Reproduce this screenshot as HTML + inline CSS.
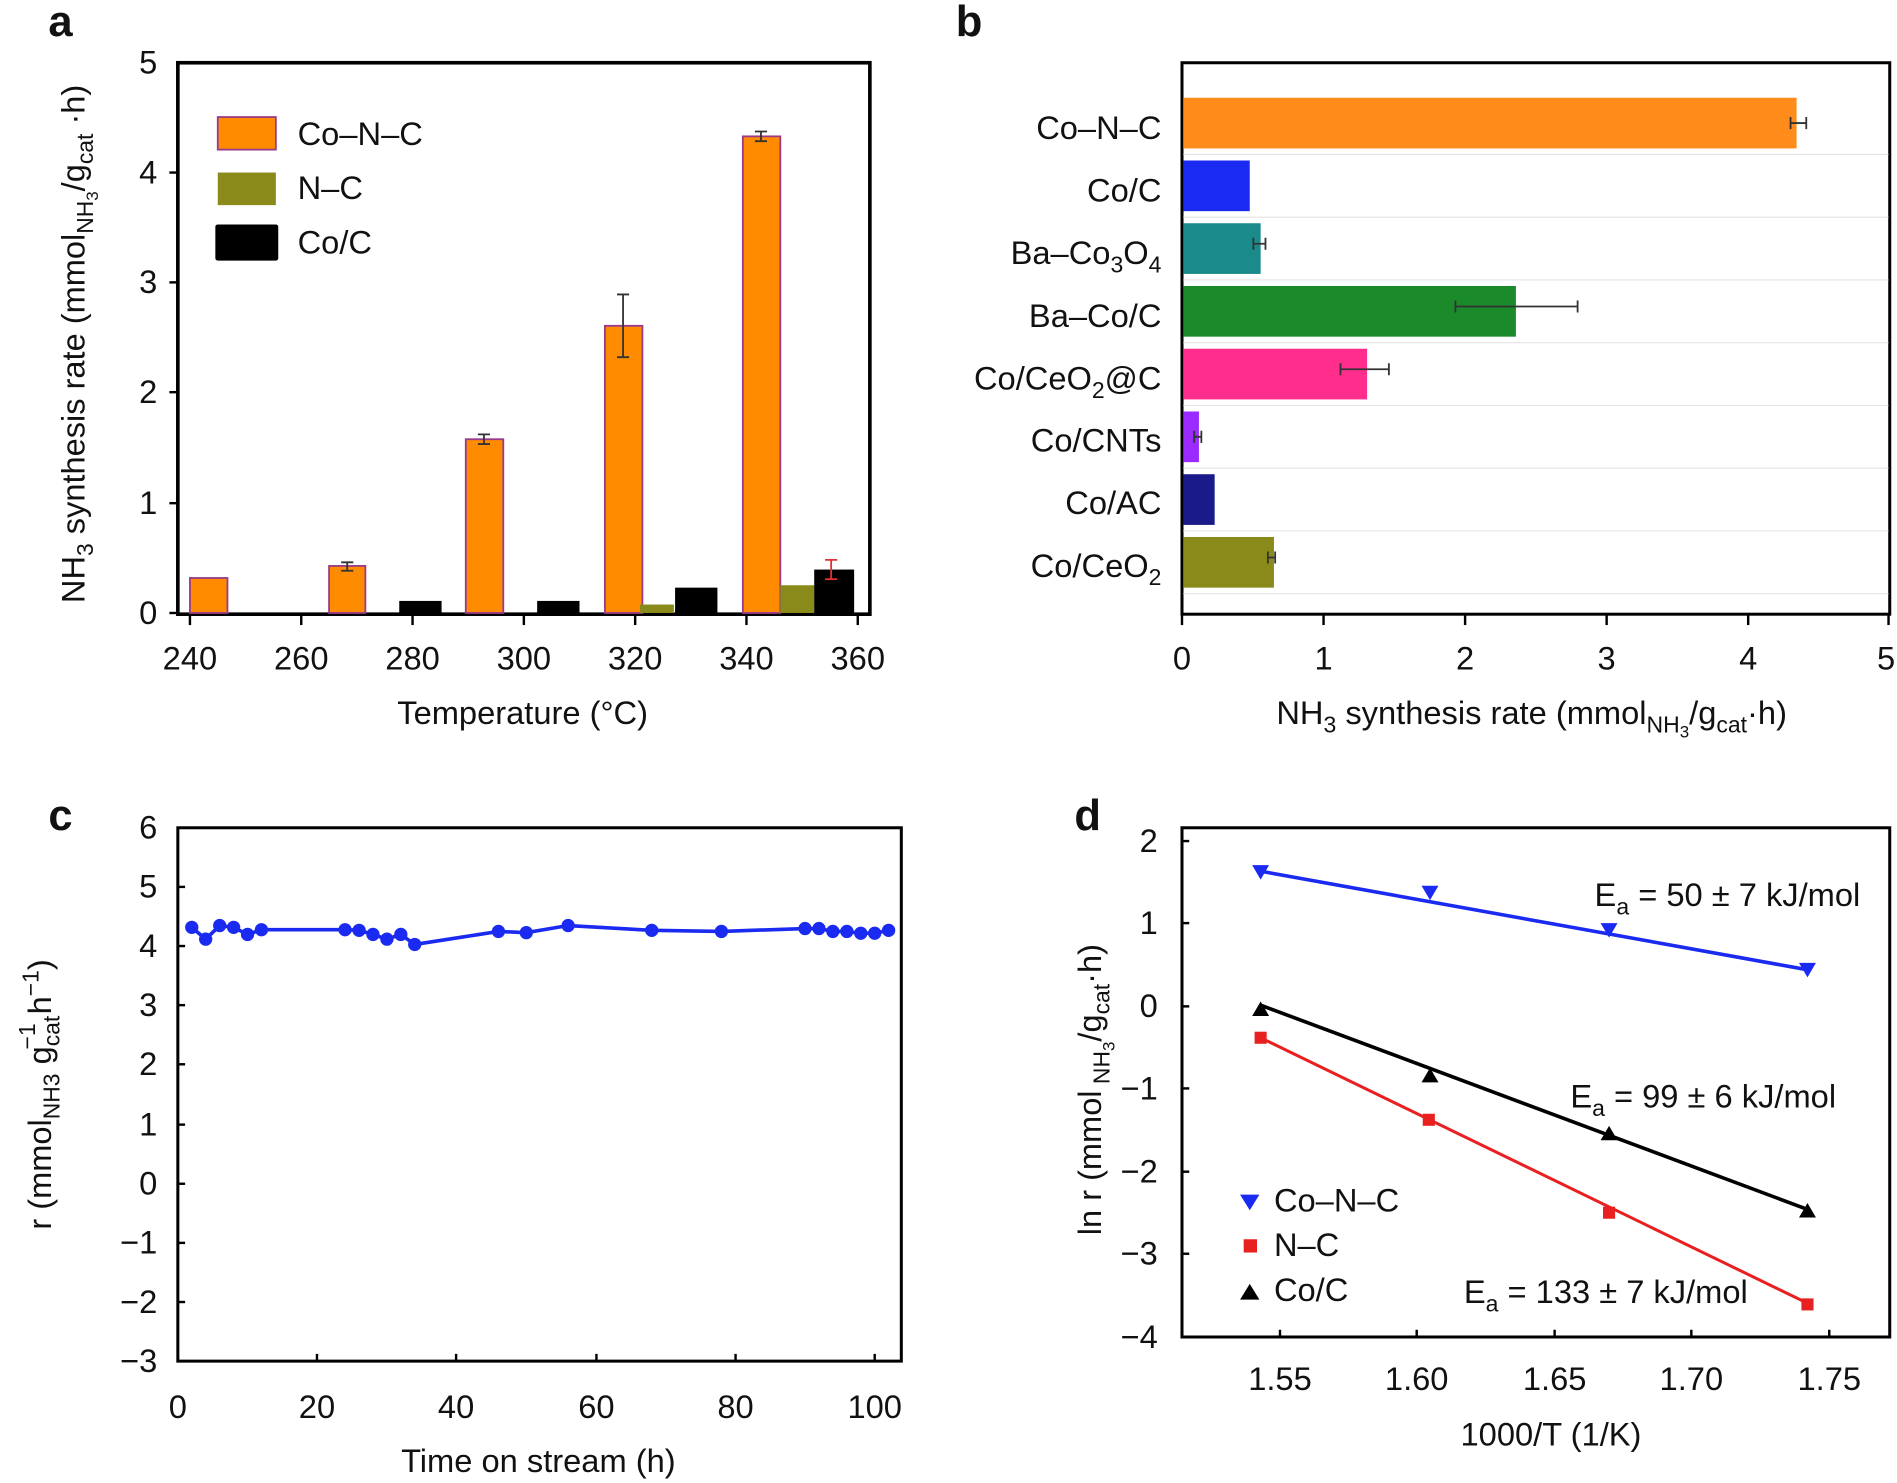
<!DOCTYPE html>
<html><head><meta charset="utf-8"><style>
html,body{margin:0;padding:0;background:#fff;}
svg{display:block;}
text{font-family:"Liberation Sans",Arial,sans-serif;fill:#111;}
</style></head><body>
<svg width="1897" height="1483" viewBox="0 0 1568 1229" preserveAspectRatio="none" xmlns="http://www.w3.org/2000/svg">
<g font-size="27">
<text x="40" y="30" font-size="36" font-weight="bold">a</text>
<text x="790" y="30" font-size="36" font-weight="bold">b</text>
<text x="40" y="688" font-size="36" font-weight="bold">c</text>
<text x="888" y="688" font-size="36" font-weight="bold">d</text>

<!-- ===== Panel a ===== -->
<rect x="147" y="52" width="572" height="457" fill="none" stroke="#000" stroke-width="3"/>
<g stroke="#000" stroke-width="2">
<line x1="147" y1="508" x2="140" y2="508"/><line x1="147" y1="417" x2="140" y2="417"/><line x1="147" y1="325" x2="140" y2="325"/><line x1="147" y1="234" x2="140" y2="234"/><line x1="147" y1="143" x2="140" y2="143"/>
<line x1="157" y1="509" x2="157" y2="518"/><line x1="249" y1="509" x2="249" y2="518"/><line x1="341" y1="509" x2="341" y2="518"/><line x1="433" y1="509" x2="433" y2="518"/><line x1="525" y1="509" x2="525" y2="518"/><line x1="617" y1="509" x2="617" y2="518"/><line x1="709" y1="509" x2="709" y2="518"/>
</g>
<g text-anchor="end"><text x="130" y="517">0</text><text x="130" y="426">1</text><text x="130" y="334">2</text><text x="130" y="243">3</text><text x="130" y="152">4</text><text x="130" y="61">5</text></g>
<g text-anchor="middle"><text x="157" y="555">240</text><text x="249" y="555">260</text><text x="341" y="555">280</text><text x="433" y="555">300</text><text x="525" y="555">320</text><text x="617" y="555">340</text><text x="709" y="555">360</text>
<text x="432" y="600">Temperature (°C)</text></g>
<text transform="translate(70,285) rotate(-90)" text-anchor="middle">NH<tspan font-size="19" dy="7">3</tspan><tspan dy="-7"> synthesis rate (mmol</tspan><tspan font-size="19" dy="7">NH</tspan><tspan font-size="14" dy="4">3</tspan><tspan dy="-11">/g</tspan><tspan font-size="19" dy="7">cat</tspan><tspan dy="-7"> ·h)</tspan></text>
<g stroke="#9a3a8a" stroke-width="1.5" fill="#ff8c00">
<rect x="157" y="479" width="31" height="29"/><rect x="272" y="469" width="30" height="39"/><rect x="385" y="364" width="31" height="144"/><rect x="500" y="270" width="31" height="238"/><rect x="614" y="113" width="31" height="395"/>
</g>
<rect x="529" y="501" width="28" height="7" fill="#8a8a1a"/><rect x="645" y="485" width="28" height="23" fill="#8a8a1a"/>
<g fill="#000"><rect x="330" y="498" width="35" height="10"/><rect x="444" y="498" width="35" height="10"/><rect x="558" y="487" width="35" height="21"/><rect x="673" y="472" width="33" height="36"/></g>
<g stroke="#333" stroke-width="1.5" fill="none">
<path d="M282 466h10M287 466v7M282 473h10"/><path d="M395 360h10M400 360v8M395 368h10"/><path d="M510 244h10M515 244v52M510 296h10"/><path d="M624 109h10M629 109v8M624 117h10"/>
</g>
<path d="M682 464h10M687 464v16M682 480h10" stroke="#e03030" stroke-width="1.5" fill="none"/>
<rect x="180" y="97" width="48" height="27" fill="#ff8c00" stroke="#9a3a8a" stroke-width="1.5"/><text x="246" y="120">Co–N–C</text>
<rect x="180" y="143" width="48" height="27" fill="#8a8a1a"/><text x="246" y="165">N–C</text>
<rect x="178" y="186" width="52" height="30" fill="#000" rx="2"/><text x="246" y="210">Co/C</text>

<!-- ===== Panel b ===== -->
<rect x="977" y="52" width="585" height="457" fill="none" stroke="#000" stroke-width="2.5"/>
<g stroke="#e4e4e4" stroke-width="1"><line x1="978" y1="128" x2="1561" y2="128"/><line x1="978" y1="180" x2="1561" y2="180"/><line x1="978" y1="232" x2="1561" y2="232"/><line x1="978" y1="284" x2="1561" y2="284"/><line x1="978" y1="336" x2="1561" y2="336"/><line x1="978" y1="388" x2="1561" y2="388"/><line x1="978" y1="440" x2="1561" y2="440"/><line x1="978" y1="492" x2="1561" y2="492"/></g>
<rect x="978" y="81" width="507" height="42" fill="#ff8c1a"/>
<rect x="978" y="133" width="55" height="42" fill="#1a2af0"/>
<rect x="978" y="185" width="64" height="42" fill="#1a8a8a"/>
<rect x="978" y="237" width="275" height="42" fill="#1a8a2a"/>
<rect x="978" y="289" width="152" height="42" fill="#ff2d8c"/>
<rect x="978" y="341" width="13" height="42" fill="#9a2aff"/>
<rect x="978" y="393" width="26" height="42" fill="#1a1a8a"/>
<rect x="978" y="445" width="75" height="42" fill="#8a8a1a"/>
<g stroke="#333" stroke-width="1.5" fill="none">
<path d="M1480 97v10M1480 102h13M1493 97v10"/><path d="M1036 197v10M1036 202h10M1046 197v10"/><path d="M1203 249v10M1203 254h101M1304 249v10"/><path d="M1108 301v10M1108 306h40M1148 301v10"/><path d="M987 357v10M987 362h6M993 357v10"/><path d="M1048 457v10M1048 462h6M1054 457v10"/>
</g>
<g stroke="#000" stroke-width="2"><line x1="977" y1="509" x2="977" y2="518"/><line x1="1094" y1="509" x2="1094" y2="518"/><line x1="1211" y1="509" x2="1211" y2="518"/><line x1="1328" y1="509" x2="1328" y2="518"/><line x1="1445" y1="509" x2="1445" y2="518"/><line x1="1561" y1="509" x2="1561" y2="518"/></g>
<g text-anchor="middle"><text x="977" y="555">0</text><text x="1094" y="555">1</text><text x="1211" y="555">2</text><text x="1328" y="555">3</text><text x="1445" y="555">4</text><text x="1559" y="555">5</text>
<text x="1266" y="600">NH<tspan font-size="19" dy="7">3</tspan><tspan dy="-7"> synthesis rate (mmol</tspan><tspan font-size="19" dy="7">NH</tspan><tspan font-size="14" dy="4">3</tspan><tspan dy="-11">/g</tspan><tspan font-size="19" dy="7">cat</tspan><tspan dy="-7">·h)</tspan></text></g>
<g text-anchor="end"><text x="960" y="115">Co–N–C</text><text x="960" y="167">Co/C</text><text x="960" y="219">Ba–Co<tspan font-size="19" dy="7">3</tspan><tspan dy="-7">O</tspan><tspan font-size="19" dy="7">4</tspan></text><text x="960" y="271">Ba–Co/C</text><text x="960" y="323">Co/CeO<tspan font-size="19" dy="7">2</tspan><tspan dy="-7">@C</tspan></text><text x="960" y="374">Co/CNTs</text><text x="960" y="426">Co/AC</text><text x="960" y="478">Co/CeO<tspan font-size="19" dy="7">2</tspan></text></g>

<!-- ===== Panel c ===== -->
<rect x="147" y="686" width="598" height="442" fill="none" stroke="#000" stroke-width="2.5"/>
<g stroke="#000" stroke-width="2">
<line x1="147" y1="735" x2="153" y2="735"/><line x1="147" y1="784" x2="153" y2="784"/><line x1="147" y1="833" x2="153" y2="833"/><line x1="147" y1="882" x2="153" y2="882"/><line x1="147" y1="932" x2="153" y2="932"/><line x1="147" y1="981" x2="153" y2="981"/><line x1="147" y1="1030" x2="153" y2="1030"/><line x1="147" y1="1079" x2="153" y2="1079"/>
<line x1="262" y1="1128" x2="262" y2="1122"/><line x1="377" y1="1128" x2="377" y2="1122"/><line x1="493" y1="1128" x2="493" y2="1122"/><line x1="608" y1="1128" x2="608" y2="1122"/><line x1="723" y1="1128" x2="723" y2="1122"/>
</g>
<g text-anchor="end"><text x="130" y="695">6</text><text x="130" y="744">5</text><text x="130" y="793">4</text><text x="130" y="842">3</text><text x="130" y="891">2</text><text x="130" y="941">1</text><text x="130" y="990">0</text><text x="130" y="1039">−1</text><text x="130" y="1088">−2</text><text x="130" y="1137">−3</text></g>
<g text-anchor="middle"><text x="147" y="1175">0</text><text x="262" y="1175">20</text><text x="377" y="1175">40</text><text x="493" y="1175">60</text><text x="608" y="1175">80</text><text x="723" y="1175">100</text>
<text x="445" y="1220">Time on stream (h)</text></g>
<text transform="translate(42,907) rotate(-90)" text-anchor="middle">r (mmol<tspan font-size="19" dy="7">NH3</tspan><tspan dy="-7"> g</tspan><tspan font-size="19" dy="7">cat</tspan><tspan font-size="19" dx="-28" dy="-20">−1</tspan><tspan dy="13"> h</tspan><tspan font-size="19" dy="-10">−1</tspan><tspan dy="10">)</tspan></text>
<path d="M158.5 768.5L170 778.3L181.6 767L193.1 768.5L204.6 774.4L216.1 770.5L285.2 770.5L296.8 771L308.3 774.4L319.8 778.3L331.3 774.4L342.8 782.7L412 771.9L435 772.9L469.6 767L538.7 771L596.3 771.9L665.4 769.5L676.9 769.5L688.4 771.9L700 771.9L711.5 773.4L723 773.4L734.5 771" fill="none" stroke="#1a2af0" stroke-width="3"/>
<g fill="#1a2af0">
<circle cx="158.5" cy="768.5" r="5.5"/><circle cx="170" cy="778.3" r="5.5"/><circle cx="181.6" cy="767" r="5.5"/><circle cx="193.1" cy="768.5" r="5.5"/><circle cx="204.6" cy="774.4" r="5.5"/><circle cx="216.1" cy="770.5" r="5.5"/><circle cx="285.2" cy="770.5" r="5.5"/><circle cx="296.8" cy="771" r="5.5"/><circle cx="308.3" cy="774.4" r="5.5"/><circle cx="319.8" cy="778.3" r="5.5"/><circle cx="331.3" cy="774.4" r="5.5"/><circle cx="342.8" cy="782.7" r="5.5"/><circle cx="412" cy="771.9" r="5.5"/><circle cx="435" cy="772.9" r="5.5"/><circle cx="469.6" cy="767" r="5.5"/><circle cx="538.7" cy="771" r="5.5"/><circle cx="596.3" cy="771.9" r="5.5"/><circle cx="665.4" cy="769.5" r="5.5"/><circle cx="676.9" cy="769.5" r="5.5"/><circle cx="688.4" cy="771.9" r="5.5"/><circle cx="700" cy="771.9" r="5.5"/><circle cx="711.5" cy="773.4" r="5.5"/><circle cx="723" cy="773.4" r="5.5"/><circle cx="734.5" cy="771" r="5.5"/>
</g>

<!-- ===== Panel d ===== -->
<rect x="977" y="686" width="585" height="422" fill="none" stroke="#000" stroke-width="2.5"/>
<g stroke="#000" stroke-width="2">
<line x1="977" y1="765" x2="983" y2="765"/><line x1="977" y1="834" x2="983" y2="834"/><line x1="977" y1="902" x2="983" y2="902"/><line x1="977" y1="971" x2="983" y2="971"/><line x1="977" y1="1039" x2="983" y2="1039"/><line x1="977" y1="697" x2="983" y2="697"/>
<line x1="1058" y1="1108" x2="1058" y2="1102"/><line x1="1171" y1="1108" x2="1171" y2="1102"/><line x1="1285" y1="1108" x2="1285" y2="1102"/><line x1="1398" y1="1108" x2="1398" y2="1102"/><line x1="1512" y1="1108" x2="1512" y2="1102"/>
</g>
<g text-anchor="end"><text x="957" y="706">2</text><text x="957" y="774">1</text><text x="957" y="843">0</text><text x="957" y="911">−1</text><text x="957" y="980">−2</text><text x="957" y="1048">−3</text><text x="957" y="1117">−4</text></g>
<g text-anchor="middle"><text x="1058" y="1152">1.55</text><text x="1171" y="1152">1.60</text><text x="1285" y="1152">1.65</text><text x="1398" y="1152">1.70</text><text x="1512" y="1152">1.75</text>
<text x="1282" y="1198">1000/T (1/K)</text></g>
<text transform="translate(910,903) rotate(-90)" text-anchor="middle">ln r (mmol<tspan font-size="19" dy="7"> NH</tspan><tspan font-size="14" dy="4">3</tspan><tspan dy="-11">/g</tspan><tspan font-size="19" dy="7">cat</tspan><tspan dy="-7">·h)</tspan></text>
<line x1="1042" y1="722" x2="1496" y2="804" stroke="#1a2af0" stroke-width="3"/>
<line x1="1042" y1="833" x2="1496" y2="1003" stroke="#000" stroke-width="3"/>
<line x1="1042" y1="860" x2="1496" y2="1081" stroke="#e82020" stroke-width="2.5"/>
<g fill="#1a2af0"><path d="M1035 717h14l-7 12z"/><path d="M1175 734h14l-7 12z"/><path d="M1323 765h14l-7 12z"/><path d="M1487 798h14l-7 12z"/></g>
<g fill="#000"><path d="M1035 842h14l-7-12z"/><path d="M1175 897h14l-7-12z"/><path d="M1323 945h14l-7-12z"/><path d="M1487 1009h14l-7-12z"/></g>
<g fill="#e82020"><rect x="1037" y="855" width="10" height="10"/><rect x="1176" y="923" width="10" height="10"/><rect x="1325" y="1000" width="10" height="10"/><rect x="1489" y="1076" width="10" height="10"/></g>
<text x="1318" y="751">E<tspan font-size="19" dy="7">a</tspan><tspan dy="-7"> = 50 ± 7 kJ/mol</tspan></text>
<text x="1298" y="918">E<tspan font-size="19" dy="7">a</tspan><tspan dy="-7"> = 99 ± 6 kJ/mol</tspan></text>
<text x="1210" y="1080">E<tspan font-size="19" dy="7">a</tspan><tspan dy="-7"> = 133 ± 7 kJ/mol</tspan></text>
<path d="M1025 990h16l-8 13z" fill="#1a2af0"/><text x="1053" y="1004">Co–N–C</text>
<rect x="1028" y="1027" width="11" height="11" fill="#e82020"/><text x="1053" y="1041">N–C</text>
<path d="M1025 1077h16l-8-13z" fill="#000"/><text x="1053" y="1078">Co/C</text>
</g>
</svg>
</body></html>
